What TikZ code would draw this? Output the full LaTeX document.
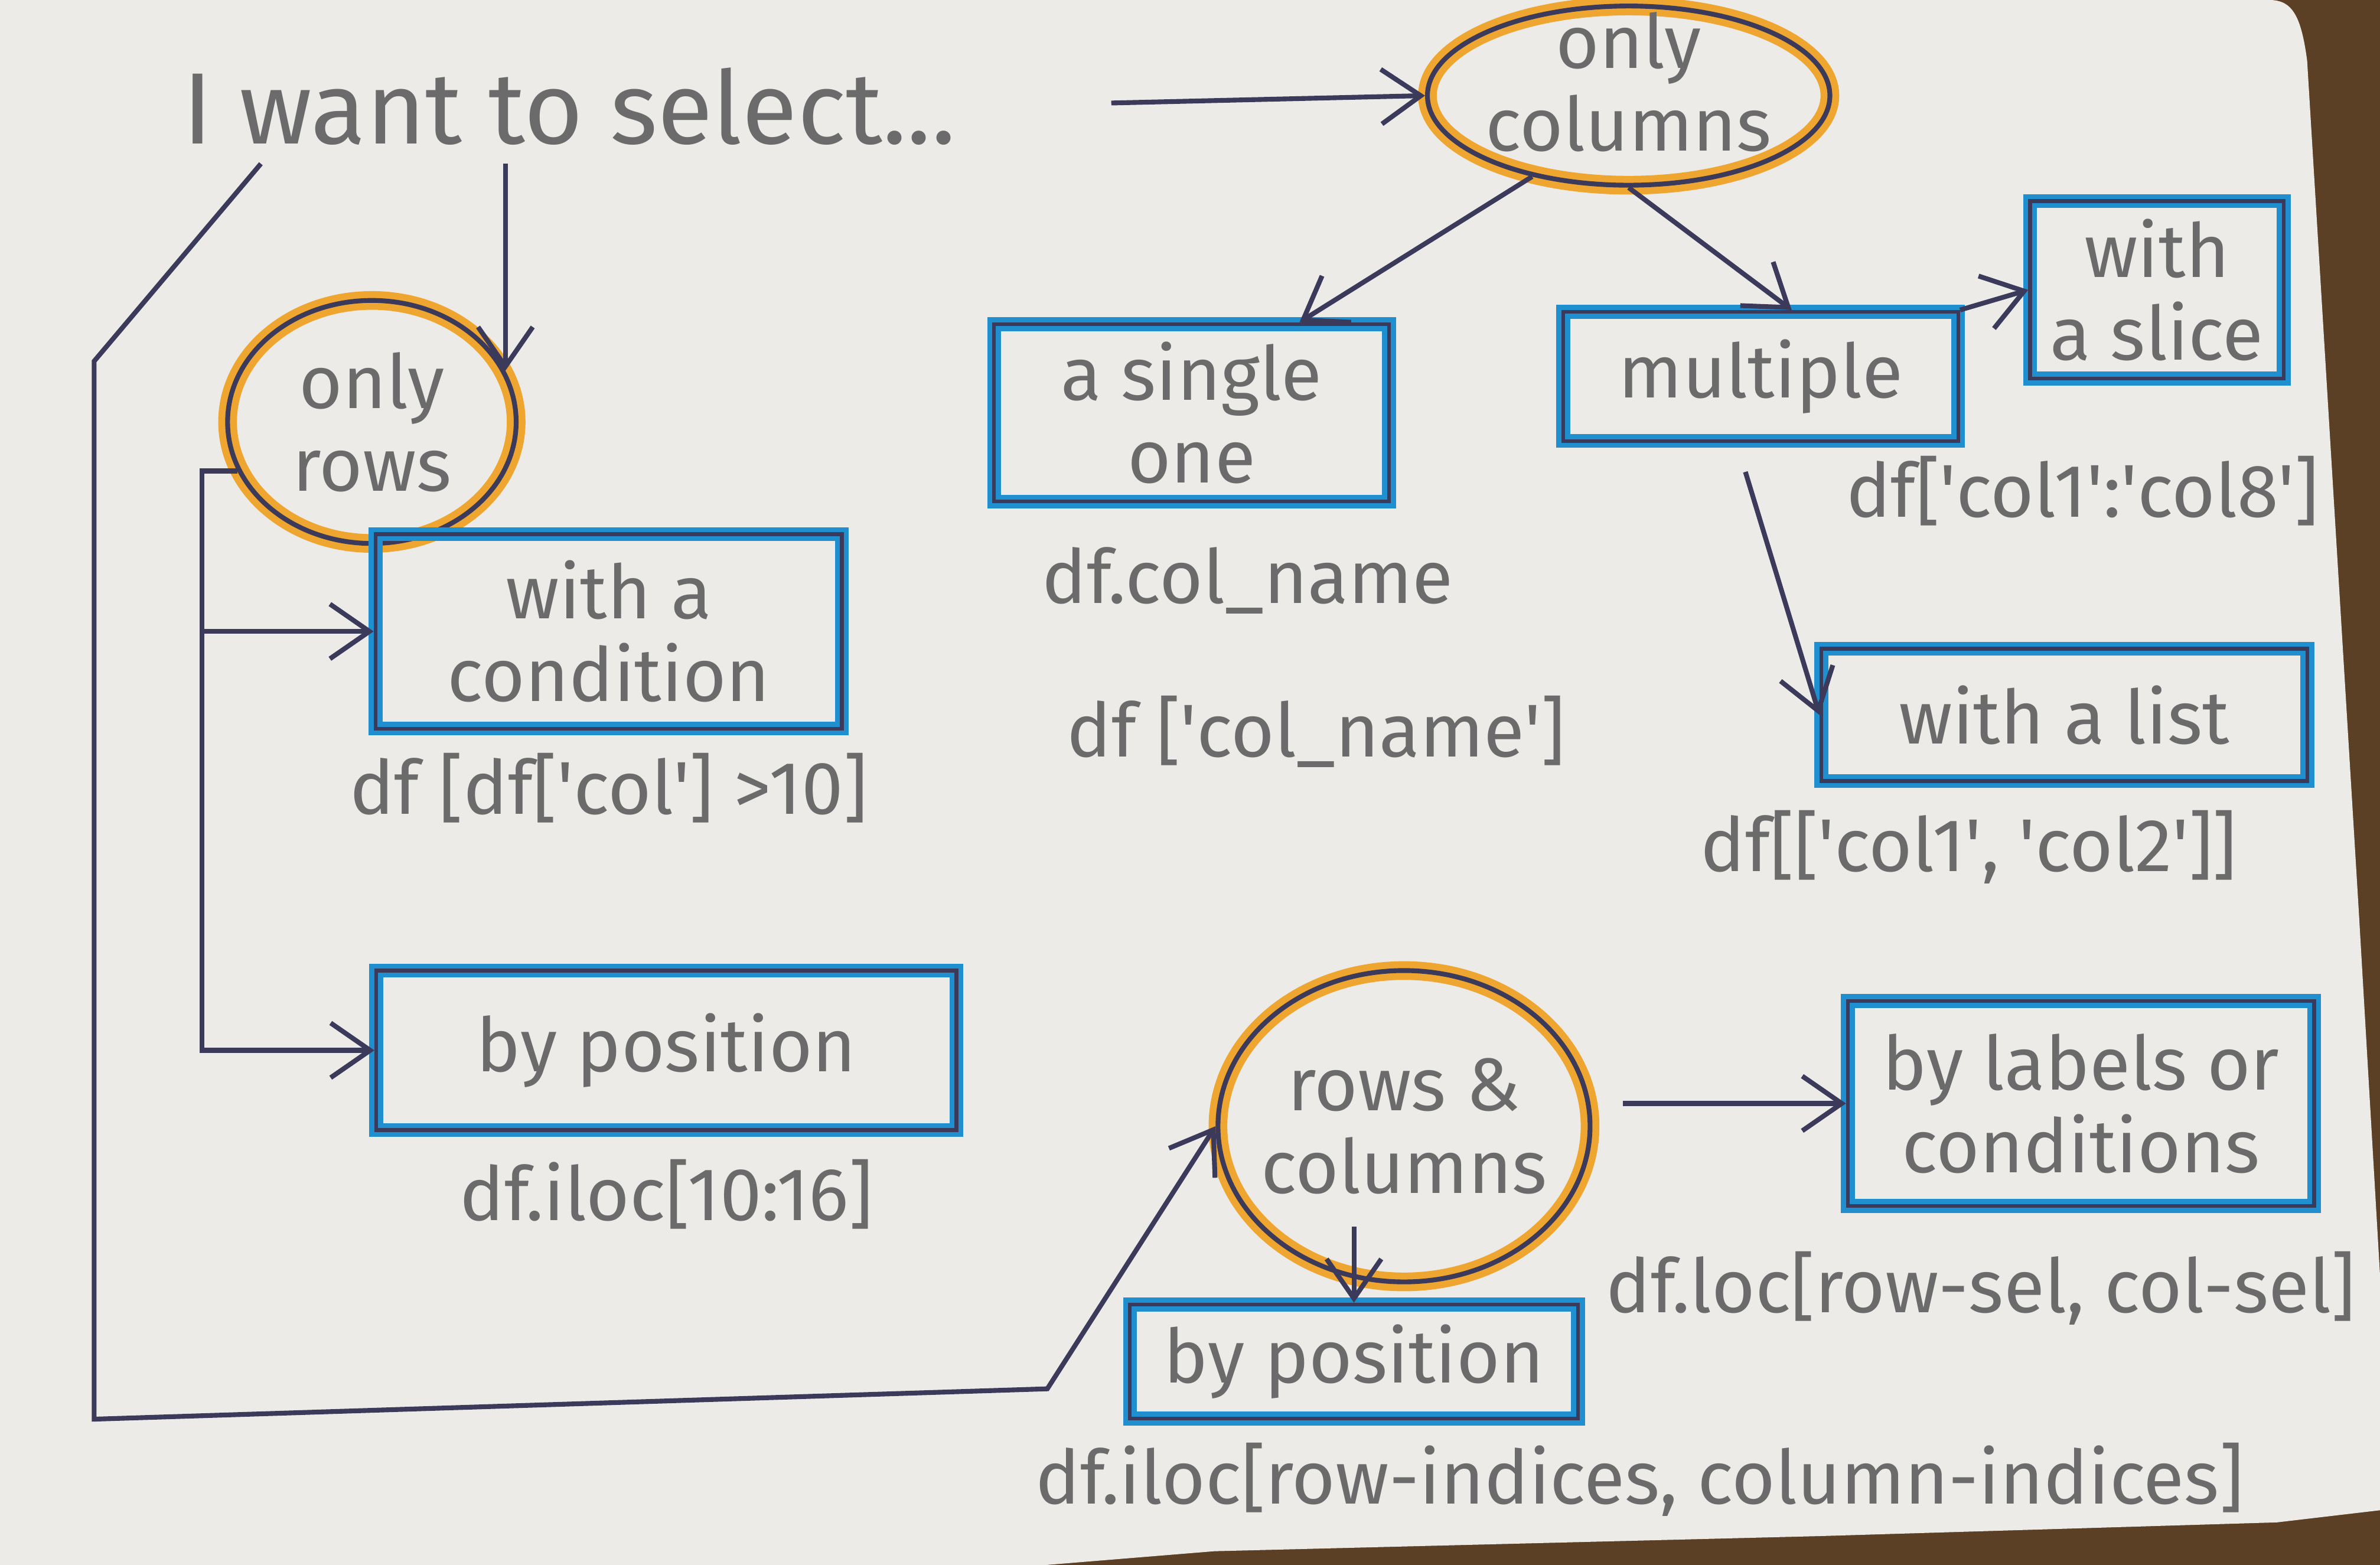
\documentclass[tikz,border=0pt]{standalone}
\usepackage{fontspec}
\setmainfont{Fira Sans}
\usepackage{tikz}
\usetikzlibrary{shapes, positioning, arrows.meta}

\definecolor{ink}{HTML}{3C3A5A}
\definecolor{markerblue}{HTML}{1F8FD0}
\definecolor{ringorange}{HTML}{EFA630}
\definecolor{pencil}{HTML}{6B6B6B}
\definecolor{paper}{HTML}{ECEBE8}
\definecolor{wood}{HTML}{5C4026}

\newcommand{\sq}{\textquotesingle}

\begin{document}
\begin{tikzpicture}[
    x=0.01cm, y=-0.01cm,
    txt/.style={text=pencil, font=\fontsize{14}{15.5}\selectfont, align=center},
    code/.style={txt, inner sep=1pt},
    box/.style={rectangle, draw=ink, line width=0.7pt, preaction={draw=markerblue, line width=2.6pt}, txt},
    ring/.style={ellipse, draw=ink, line width=0.9pt, preaction={draw=ringorange, line width=3.5pt}},
    arrow/.style={-{Straight Barb[length=2.6mm, width=3.6mm]}, line width=0.9pt, draw=ink}
    ]
\useasboundingbox (0,0) rectangle (1568,1031);
% the card on the desk
\fill[wood] (0,0) rectangle (1568,1031);
\fill[paper] (0,0) -- (1495,0) .. controls (1510,0) and (1516,10) .. (1520,40) -- (1554,600) -- (1568,840) -- (1568,995) -- (1500,1003) -- (1200,1012) -- (800,1022) -- (690,1031) -- (0,1031) -- cycle;

\node[txt, font=\fontsize{19}{23}\selectfont] (select) at (375,70) {I want to select...};

% the three choices
\node[ring, minimum width=2.65cm, minimum height=1.18cm, label={[txt, yshift=0.09cm]center:{only\\columns}}] (cols) at (1073,63) {};
\node[ring, minimum width=1.9cm, minimum height=1.6cm, label={[txt]center:{only\\rows}}] (rows) at (245,278) {};
\node[ring, minimum width=2.45cm, minimum height=2.05cm, label={[txt]center:{rows \&\\columns}}] (both) at (925,742) {};

\node[box, minimum width=3.07cm, minimum height=1.28cm] (cond) at (401,416) {with a\\condition};
\node[box, minimum width=3.82cm, minimum height=1.05cm] (rpos) at (439,692) {by position};
\node[box, minimum width=2.6cm, minimum height=1.15cm] (single) at (785,272) {a single\\one};
\node[box, minimum width=2.6cm, minimum height=0.85cm] (multi) at (1160,248) {multiple};
\node[box, minimum width=1.67cm, minimum height=1.07cm] (slice) at (1421,191) {with\\a slice};
\node[box, minimum width=3.2cm, minimum height=0.87cm] (list) at (1360,471) {with a list};
\node[box, minimum width=3.07cm, minimum height=1.35cm] (labels) at (1371,727) {by labels or\\conditions};
\node[box, minimum width=2.95cm, minimum height=0.75cm] (bpos) at (892,897) {by position};

% code under each box
\node[code, below=3pt of cond] (condcode) {df [df[\sq col\sq] >10]};
\node[code, below=4pt of rpos] (rposcode) {df.iloc[10:16]};
\node[code, below=7pt of single, xshift=0.37cm] (singlecode) {df.col\_name};
\node[code, below=13pt of singlecode, xshift=0.45cm] (singlecode2) {df [\sq col\_name\sq]};
\node[code, below=13pt of slice, xshift=-0.49cm] (slicecode) {df[\sq col1\sq:\sq col8\sq]};
\node[code, below=4pt of list, xshift=-0.63cm] (listcode) {df[[\sq col1\sq, \sq col2\sq]]};
\node[code, below=7pt of labels, xshift=-0.66cm] (labelscode) {df.loc[row-sel, col-sel]};
\node[code, below=3pt of bpos, xshift=1.88cm] (bposcode) {df.iloc[row-indices, column-indices]};

\coordinate (spine) at (133,0);
\coordinate (lefttop) at (62,238);
\coordinate (leftbottom) at (62,935);
\coordinate (bottomend) at (690,915);

\draw[arrow, shorten <=0.9cm] (select.east) -- (cols.west);
\draw[arrow] (select.south -| rows.21) -- (rows.21);
\draw[arrow] ([xshift=-2.03cm]select.south) -- (lefttop) -- (leftbottom) -- (bottomend) -- (both.west);
\draw[arrow] (rows.200) -- (rows.200 -| spine) |- (rpos.west);
\draw[arrow] (cond.west -| spine) -- (cond.west);
\draw[arrow] (cols.220) -- (single.40);
\draw[arrow] (cols.south) -- (multi.65);
\draw[arrow] (multi.north east) -- (slice.west);
\draw[arrow, shorten <=0.2cm] (multi.250) -- (list.west);
\draw[arrow, shorten <=0.2cm] (both.east |- labels.west) -- (labels.west);
\draw[arrow] ([yshift=0.5cm]bpos.north) -- (bpos.north);
\end{tikzpicture}
\end{document}
